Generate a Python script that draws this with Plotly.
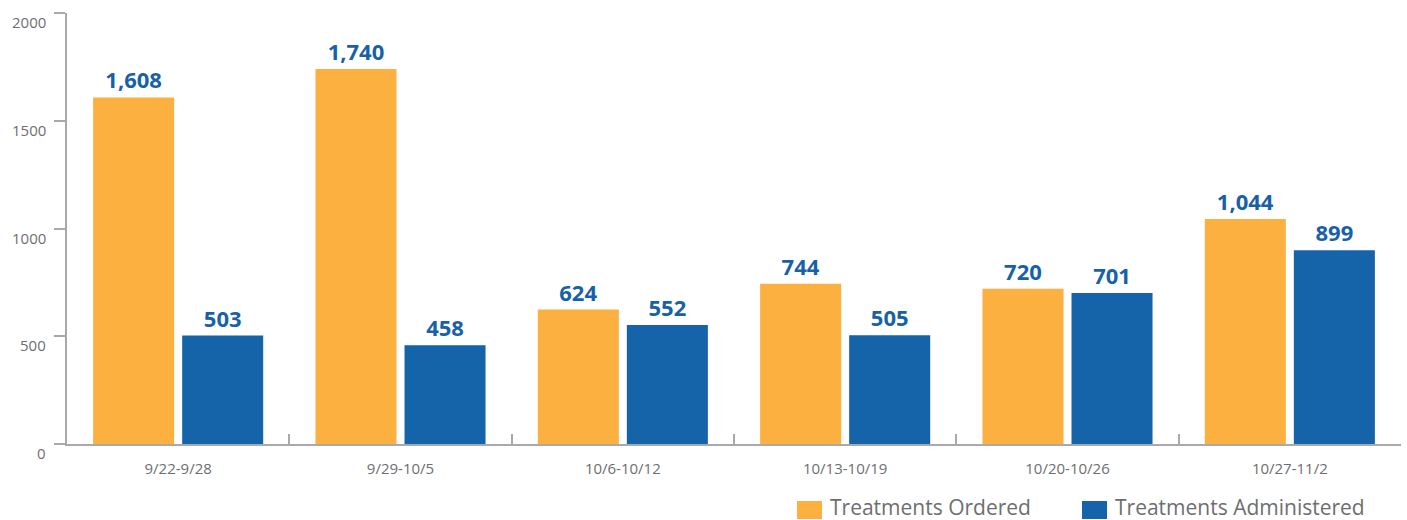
import plotly.graph_objects as go

categories = ["9/22-9/28", "9/29-10/5", "10/6-10/12", "10/13-10/19", "10/20-10/26", "10/27-11/2"]
ordered = [1608, 1740, 624, 744, 720, 1044]
administered = [503, 458, 552, 505, 701, 899]
y_ticks = [0, 500, 1000, 1500, 2000]

ORANGE = "#FBB040"
BLUE = "#1563A9"
LABEL_BLUE = "#1761A9"
GRAY = "#A7A9AC"
TEXT_GRAY = "#6D6E71"
FONT = "Open Sans"

W, H = 1407, 520
L, R, T, B = 67, 6, 13, 76
PW, PH = W - L - R, H - T - B

fig = go.Figure()
for vals, name, col in [(ordered, "Treatments Ordered", ORANGE),
                        (administered, "Treatments Administered", BLUE)]:
    fig.add_trace(go.Bar(
        x=categories, y=vals, name=name,
        marker=dict(color=col, line=dict(width=0)),
        text=[f"{v:,}" for v in vals], textposition="outside",
        textfont=dict(family=FONT, size=22, color=LABEL_BLUE, weight="bold"),
        cliponaxis=False,
    ))

annotations = []
for t in y_ticks:
    annotations.append(dict(
        x=0, xref="paper", y=t, yref="y", text=str(t), showarrow=False,
        xanchor="right", yanchor="middle", xshift=-19, yshift=-9,
        font=dict(family=FONT, size=15, color=TEXT_GRAY),
    ))

# manual legend
legend_items = [("Treatments Ordered", ORANGE, 797), ("Treatments Administered", BLUE, 1082)]
shapes = []

def px_x(p):
    return (p - L) / PW

def px_y(p):
    return (H - B - p) / PH

for name, col, px in legend_items:
    shapes.append(dict(
        type="rect", xref="paper", yref="paper",
        x0=px_x(px), x1=px_x(px + 25),
        y0=px_y(519), y1=px_y(501),
        fillcolor=col, line=dict(width=0),
    ))
    annotations.append(dict(
        x=px_x(px + 31), xref="paper", y=px_y(507.5), yref="paper",
        text=name, showarrow=False, xanchor="left", yanchor="middle",
        font=dict(family=FONT, size=21, color=TEXT_GRAY),
    ))

fig.update_layout(
    width=W, height=H,
    margin=dict(l=L, r=R, t=T, b=B),
    barmode="group", bargap=0.199, bargroupgap=0.09,
    plot_bgcolor="white", paper_bgcolor="white",
    showlegend=False,
    font=dict(family=FONT, color=TEXT_GRAY),
    annotations=annotations, shapes=shapes,
    xaxis=dict(
        showline=True, linecolor=GRAY, linewidth=1.5,
        ticks="inside", tickson="boundaries", ticklen=10, tickcolor=GRAY, tickwidth=1.5,
        tickfont=dict(family=FONT, size=15, color=TEXT_GRAY),
        ticklabelstandoff=10,
        showgrid=False, zeroline=False,
    ),
    yaxis=dict(
        range=[0, 2000], tickvals=y_ticks, showticklabels=False,
        showline=True, linecolor=GRAY, linewidth=1.5,
        ticks="outside", ticklen=11, tickcolor=GRAY, tickwidth=1.5,
        showgrid=False, zeroline=False,
    ),
)

fig.write_html(
    "out.html",
    config={"displayModeBar": False},
    post_script="document.body.style.margin='0';document.body.style.overflow='hidden';",
)
